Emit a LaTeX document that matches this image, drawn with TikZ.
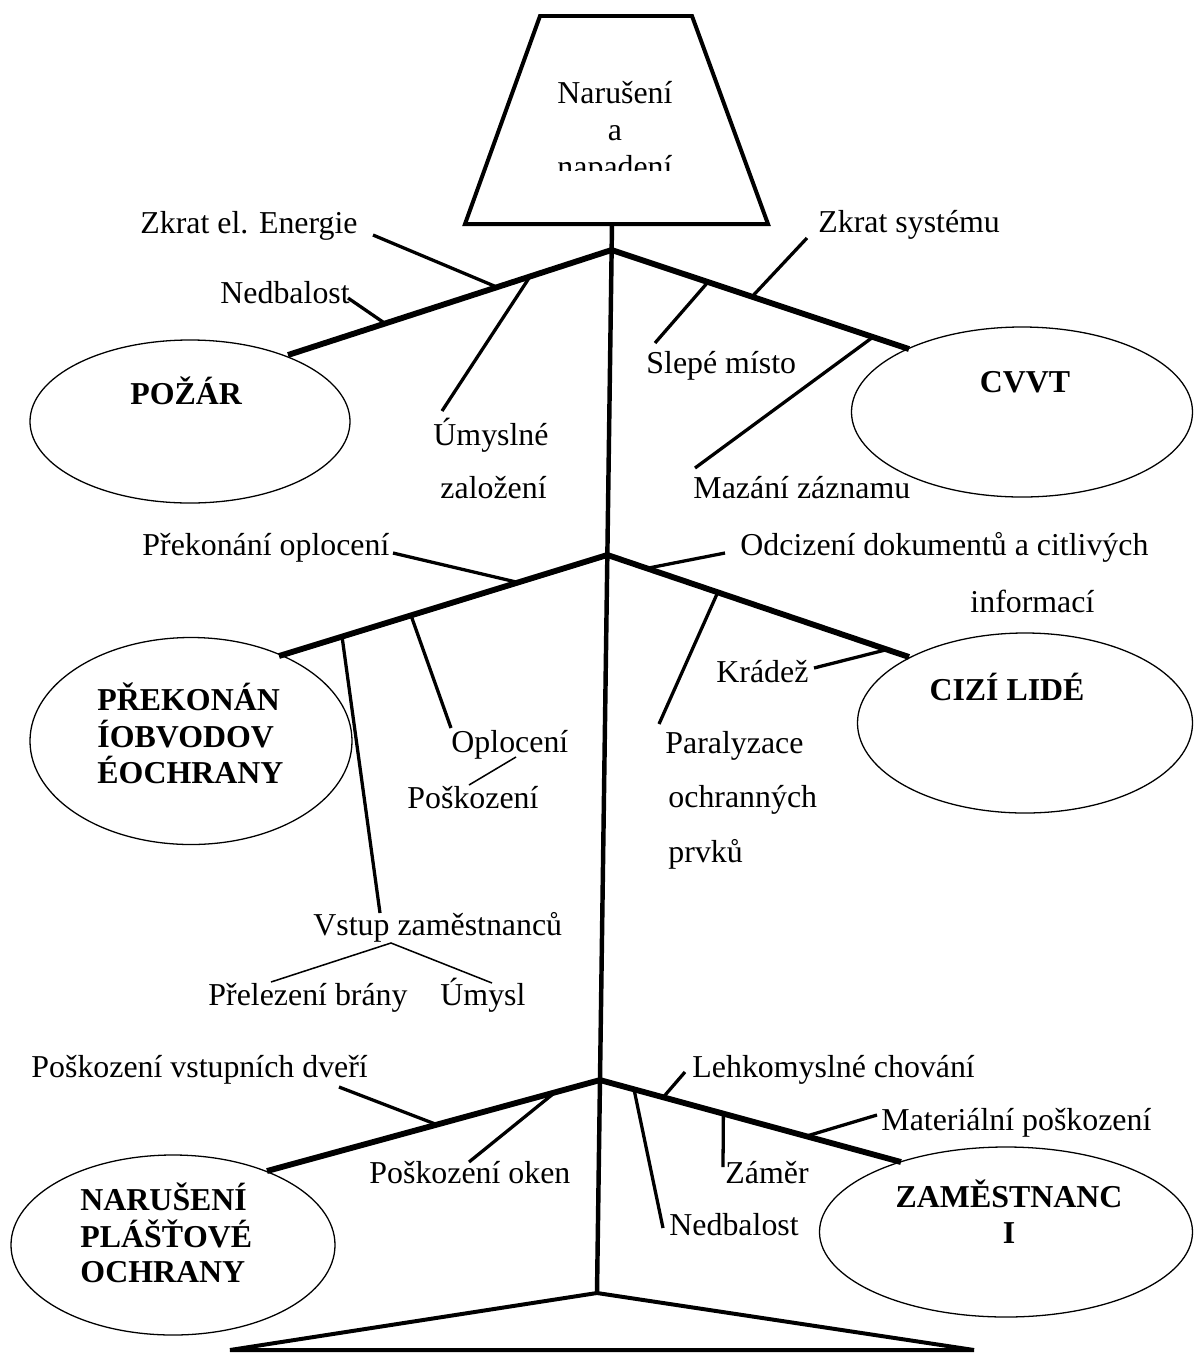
\documentclass[tikz,border=0pt]{standalone}
\usepackage{fontspec}
\setmainfont{Liberation Serif}
\usetikzlibrary{shapes.geometric,calc}
\begin{document}
\begin{tikzpicture}[x=0.015cm,y=-0.015cm,
  lbl/.style={font=\fontsize{13.6}{16}\selectfont, inner sep=0, anchor=base west},
  lblc/.style={font=\fontsize{13.6}{16}\selectfont, inner sep=0, anchor=base},
  bold/.style={font=\fontsize{13.6}{16}\selectfont\bfseries, inner sep=0, anchor=base west},
  boldc/.style={font=\fontsize{13.6}{16}\selectfont\bfseries, inner sep=0, anchor=base},
  ell/.style={ellipse, draw, line width=0.55pt, inner sep=0},
  headline/.style={line width=1.7pt, line join=miter},
  spineline/.style={line width=1.9pt},
  bone/.style={line width=2.5pt},
  twig/.style={line width=1.4pt},
  thinline/.style={line width=0.65pt}]
\useasboundingbox (0,0) rectangle (1195,1353);

% head and tail
\coordinate (hb) at (612,224);
\coordinate (tl) at (597,1293);
\draw[headline] (540,16) -- (692,16) -- (768,224) -- (465,224) -- cycle;
\begin{scope}
  \clip (470,20) rectangle (760,170);
  \node[lblc] (t1) at (615,103) {Narušení};
  \node[lblc] (t2) at (615,140) {a};
  \node[lblc] (t3) at (615,177) {napadení};
\end{scope}
\draw[headline] (tl) -- (230,1350) -- (974,1350) -- cycle;

% ellipses
\node[ell, minimum width=4.8cm, minimum height=2.445cm] (pozar) at (190,421.5) {};
\node[ell, minimum width=5.115cm, minimum height=2.55cm] (cvvt) at (1022,412) {};
\node[ell, minimum width=4.83cm, minimum height=3.105cm] (prek) at (191,741) {};
\node[ell, minimum width=5.025cm, minimum height=2.7cm] (cizi) at (1025,723) {};
\node[ell, minimum width=4.86cm, minimum height=2.7cm] (narus) at (173,1245) {};
\node[ell, minimum width=5.595cm, minimum height=2.55cm] (zam) at (1006,1232) {};

\node[bold] (Lpozar) at (130,404) {POŽÁR};
\node[boldc] (Lcvvt) at (1025,392) {CVVT};
\node[bold] (Lprek1) at (97,710) {PŘEKONÁN};
\node[bold] (Lprek2) at (97,747) {ÍOBVODOV};
\node[bold] (Lprek3) at (97,783) {ÉOCHRANY};
\node[boldc] (Lcizi) at (1007,700) {CIZÍ LIDÉ};
\node[bold] (Lnar1) at (80,1210) {NARUŠENÍ};
\node[bold] (Lnar2) at (80,1247) {PLÁŠŤOVÉ};
\node[bold] (Lnar3) at (80,1282) {OCHRANY};
\node[boldc] (Lzam1) at (1009,1207) {ZAMĚSTNANC};
\node[boldc] (Lzam2) at (1009,1243) {I};

% spine and junctions
\draw[spineline] (hb) -- (tl);
\coordinate (J1) at ($(hb)!0.0243!(tl)$);
\coordinate (J2) at ($(hb)!0.3096!(tl)$);
\coordinate (J3) at ($(hb)!0.8008!(tl)$);

% branch end points (on the ellipses)
\coordinate (pzE) at (288,355);
\coordinate (cvE) at (909,349);
\coordinate (prE) at (279,656);
\coordinate (ciE) at (909,657);
\coordinate (naE) at (267,1171);
\coordinate (zaE) at (901,1162);

\draw[bone] (J1) -- (pzE);
\draw[bone] (J1) -- (cvE);
\draw[bone] (J2) -- (prE);
\draw[bone] (J2) -- (ciE);
\draw[bone] (J3) -- (naE);
\draw[bone] (J3) -- (zaE);

% attachment points
\coordinate (aZkrat) at ($(J1)!0.354!(pzE)$);
\coordinate (aNedb) at ($(J1)!0.70!(pzE)$);
\coordinate (aUmys) at ($(J1)!0.252!(pzE)$);
\coordinate (aZsys) at ($(J1)!0.472!(cvE)$);
\coordinate (aSlep) at ($(J1)!0.324!(cvE)$);
\coordinate (aMaz) at ($(J1)!0.879!(cvE)$);
\coordinate (aPrek) at ($(J2)!0.272!(prE)$);
\coordinate (aVstup) at ($(J2)!0.808!(prE)$);
\coordinate (aOplo) at ($(J2)!0.598!(prE)$);
\coordinate (aOdci) at ($(J2)!0.131!(ciE)$);
\coordinate (aKrad) at ($(J2)!0.927!(ciE)$);
\coordinate (aPara) at ($(J2)!0.366!(ciE)$);
\coordinate (aDver) at ($(J3)!0.49!(naE)$);
\coordinate (aOken) at ($(J3)!0.135!(naE)$);
\coordinate (aLehk) at ($(J3)!0.21!(zaE)$);
\coordinate (aNedbB) at ($(J3)!0.113!(zaE)$);
\coordinate (aZamer) at ($(J3)!0.41!(zaE)$);
\coordinate (aMat) at ($(J3)!0.685!(zaE)$);

% free ends
\coordinate (fZkrat) at (373,235);
\coordinate (fNedb) at (348,298);
\coordinate (fUmys) at (442,411);
\coordinate (fZsys) at (807,238);
\coordinate (fSlep) at (655,343);
\coordinate (fMaz) at (695,468);
\coordinate (fPrek) at (393,553);
\coordinate (fVstup) at (380,913);
\coordinate (fOplo) at (451,728);
\coordinate (fOdci) at (725,553);
\coordinate (fKrad) at (814,668);
\coordinate (fPara) at (659,724);
\coordinate (fDver) at (339,1087);
\coordinate (fOken) at (469,1162);
\coordinate (fLehk) at (685,1072);
\coordinate (fNedbB) at (663,1228);
\coordinate (fZamer) at (723,1167);
\coordinate (fMat) at (877,1115);

\foreach \n in {Zkrat,Nedb,Umys,Zsys,Slep,Maz,Prek,Vstup,Oplo,Odci,Krad,Para,Dver,Oken,Lehk,NedbB,Zamer,Mat}
  \draw[twig] (a\n) -- (f\n);

% thin connectors
\coordinate (pA) at (516,757);
\coordinate (pB) at (469,785);
\draw[thinline] (pA) -- (pB);
\coordinate (vS) at (391,943);
\coordinate (vL) at (271,982);
\coordinate (vR) at (492,983);
\draw[thinline] (vL) -- (vS) -- (vR);

% labels
\node[lbl] (lZkrat) at (140,233) {Zkrat el. Energie};
\node[lbl] (lNedb) at (220,303) {Nedbalost};
\node[lbl] (lUmys1) at (433,445) {Úmyslné};
\node[lbl] (lUmys2) at (440,498) {založení};
\node[lbl] (lZsys) at (818,232) {Zkrat systému};
\node[lbl] (lSlep) at (646,373) {Slepé místo};
\node[lbl] (lMaz) at (693,498) {Mazání záznamu};
\node[lbl] (lPrek) at (142,555) {Překonání oplocení};
\node[lbl] (lOplo) at (451,752) {Oplocení};
\node[lbl] (lPosk) at (407,808) {Poškození};
\node[lbl] (lOdci1) at (740,555) {Odcizení dokumentů a citlivých};
\node[lbl] (lOdci2) at (970,612) {informací};
\node[lbl] (lKrad) at (716,682) {Krádež};
\node[lbl] (lPara1) at (665,753) {Paralyzace};
\node[lbl] (lPara2) at (668,807) {ochranných};
\node[lbl] (lPara3) at (668,862) {prvků};
\node[lbl] (lVstup) at (313,935) {Vstup zaměstnanců};
\node[lbl] (lPrel) at (208,1005) {Přelezení brány};
\node[lbl] (lUmysl) at (440,1005) {Úmysl};
\node[lbl] (lDver) at (31,1077) {Poškození vstupních dveří};
\node[lbl] (lOken) at (369,1183) {Poškození oken};
\node[lbl] (lLehk) at (692,1077) {Lehkomyslné chování};
\node[lbl] (lMat) at (881,1130) {Materiální poškození};
\node[lbl] (lZamer) at (725,1183) {Záměr};
\node[lbl] (lNedbB) at (669,1235) {Nedbalost};
\end{tikzpicture}
\end{document}
